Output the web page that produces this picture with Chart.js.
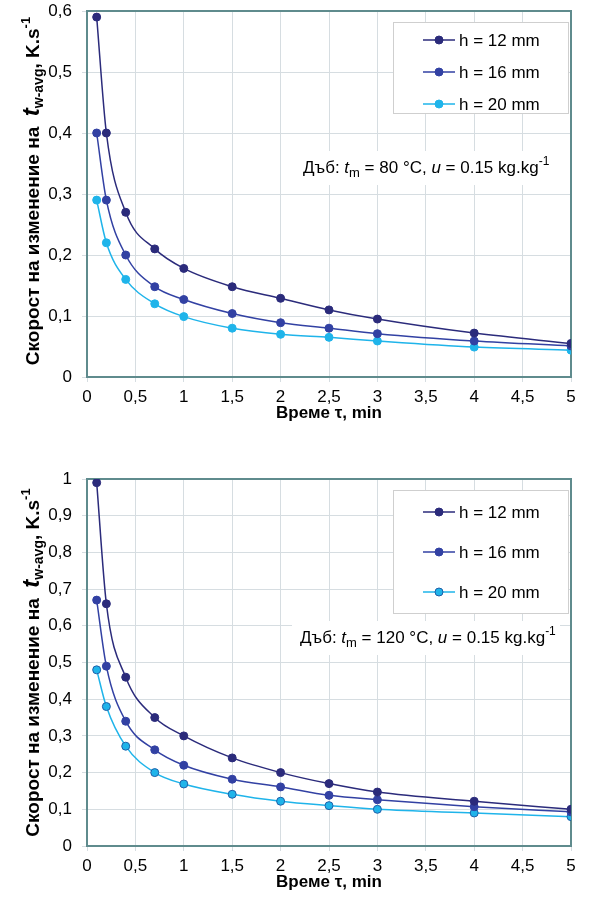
<!DOCTYPE html>
<html>
<head>
<meta charset="utf-8">
<script src="https://cdn.jsdelivr.net/npm/chart.js@4.4.1/dist/chart.umd.min.js"></script>
<style>
  body { margin: 0; background: #fff; }
  .box { position: absolute; left: 0; }
</style>
</head>
<body>
<div class="box" style="top:0"><canvas id="chartTop" width="594" height="430"></canvas></div>
<div class="box" style="top:450px"><canvas id="chartBottom" width="594" height="440"></canvas></div>
<script>
// time points, min
const times = [0.1, 0.2, 0.4, 0.7, 1, 1.5, 2, 2.5, 3, 4, 5];

// tm = 80 C
const top12 = [0.59, 0.40, 0.27, 0.21, 0.178, 0.148, 0.129, 0.110, 0.095, 0.072, 0.055];
const top16 = [0.40, 0.29, 0.20, 0.148, 0.127, 0.104, 0.089, 0.080, 0.071, 0.059, 0.051];
const top20 = [0.29, 0.22, 0.16, 0.12, 0.099, 0.080, 0.070, 0.065, 0.059, 0.049, 0.044];

// tm = 120 C
const bot12 = [0.99, 0.66, 0.46, 0.35, 0.30, 0.24, 0.20, 0.17, 0.147, 0.122, 0.10];
const bot16 = [0.67, 0.49, 0.34, 0.262, 0.22, 0.182, 0.161, 0.138, 0.126, 0.107, 0.093];
const bot20 = [0.48, 0.38, 0.272, 0.20, 0.169, 0.141, 0.122, 0.11, 0.10, 0.09, 0.08];

const seriesLabels = ['h = 12 mm', 'h = 16 mm', 'h = 20 mm'];
const FONT = '"Liberation Sans", Arial, sans-serif';

// draw a line of text made of pieces with different fonts (sub/superscripts)
function drawRich(ctx, parts, x, y, align) {
    let w = 0;
    parts.forEach(p => { ctx.font = p[1]; w += ctx.measureText(p[0]).width; });
    let cx = align === 'center' ? x - w / 2 : x;
    ctx.textAlign = 'left';
    ctx.textBaseline = 'alphabetic';
    parts.forEach(p => {
        ctx.font = p[1];
        ctx.fillText(p[0], cx, y + (p[2] || 0));
        cx += ctx.measureText(p[0]).width;
    });
    return w;
}

const decor = {
    id: 'decor',
    beforeDatasetsDraw(chart, args, opts) {
        const ctx = chart.ctx, a = chart.chartArea;
        ctx.save();
        ctx.strokeStyle = '#5f8b8d';
        ctx.lineWidth = 2;
        ctx.strokeRect(a.left, a.top, a.right - a.left, a.bottom - a.top);
        ctx.restore();
    },
    afterDraw(chart, args, opts) {
        const ctx = chart.ctx, a = chart.chartArea;
        ctx.save();
        ctx.fillStyle = '#000';

        // y axis title
        ctx.save();
        ctx.translate(31, (a.top + a.bottom) / 2 + opts.yTitleShift);
        ctx.rotate(-Math.PI / 2);
        drawRich(ctx, [
            ['Скорост на изменение на  ', 'bold 19px ' + FONT, 0],
            ['t', 'italic bold 24px ' + FONT, 0],
            ['w-avg', 'bold 14px ' + FONT, 4],
            [', K.s', 'bold 19px ' + FONT, 0],
            ['-1', 'bold 13px ' + FONT, -9]
        ], 0, 8, 'center');
        ctx.restore();

        // x axis title
        ctx.font = 'bold 17px ' + FONT;
        ctx.textAlign = 'center';
        ctx.textBaseline = 'middle';
        ctx.fillText('Време τ, min', (a.left + a.right) / 2, a.bottom + 36);

        // legend box
        const L = opts.legend;
        ctx.fillStyle = '#fff';
        ctx.fillRect(L.x, L.y, L.w, L.h);
        ctx.strokeStyle = '#cfcfcf';
        ctx.lineWidth = 1;
        ctx.strokeRect(L.x + 0.5, L.y + 0.5, L.w, L.h);
        chart.data.datasets.forEach((ds, i) => {
            const yy = L.y + L.first + i * L.step;
            ctx.strokeStyle = ds.borderColor;
            ctx.lineWidth = 1.5;
            ctx.beginPath();
            ctx.moveTo(L.x + 30, yy);
            ctx.lineTo(L.x + 62, yy);
            ctx.stroke();
            ctx.beginPath();
            ctx.arc(L.x + 46, yy, 4, 0, Math.PI * 2);
            ctx.fillStyle = ds.pointBackgroundColor;
            ctx.fill();
            ctx.strokeStyle = ds.pointBorderColor;
            ctx.lineWidth = 1;
            ctx.stroke();
            ctx.fillStyle = '#000';
            ctx.font = '17px ' + FONT;
            ctx.textAlign = 'left';
            ctx.textBaseline = 'middle';
            ctx.fillText(ds.label, L.x + 66, yy + 1);
        });

        // annotation with white background
        const N = opts.note;
        ctx.fillStyle = '#fff';
        ctx.fillRect(N.x - 8, N.y - 22, N.w, 34);
        ctx.fillStyle = '#000';
        drawRich(ctx, [
            ['Дъб: ', '17px ' + FONT, 0],
            ['t', 'italic 17px ' + FONT, 0],
            ['m', '13px ' + FONT, 4],
            [' = ' + N.temp + ' °C, ', '17px ' + FONT, 0],
            ['u', 'italic 17px ' + FONT, 0],
            [' = 0.15 kg.kg', '17px ' + FONT, 0],
            ['-1', '12px ' + FONT, -8]
        ], N.x, N.y, 'left');
        ctx.restore();
    }
};

function fmt(v) {
    return String(Math.round(v * 10) / 10).replace('.', ',');
}

function makeChart(id, s12, s16, s20, yMax, padTop, xAxisH, opts, ring20) {
    const colors = ['#2b2b7b', '#3241a3', '#1fb4ea'];
    const sets = [s12, s16, s20].map((s, i) => ({
        label: seriesLabels[i],
        data: times.map((t, j) => ({ x: t, y: s[j] })),
        showLine: true,
        borderColor: colors[i],
        borderWidth: 1.5,
        pointRadius: 4,
        pointBackgroundColor: colors[i],
        pointBorderColor: (i === 2 && ring20) ? '#1f5fa8' : colors[i],
        pointBorderWidth: 1,
        cubicInterpolationMode: 'monotone'
    }));
    return new Chart(document.getElementById(id), {
        type: 'scatter',
        data: { datasets: sets },
        options: {
            responsive: false,
            animation: false,
            layout: { padding: { top: padTop, right: 23, left: 0, bottom: 0 } },
            scales: {
                x: {
                    type: 'linear', min: 0, max: 5,
                    afterFit: s => { s.height = xAxisH; },
                    ticks: { stepSize: 0.5, color: '#000', padding: 5,
                        font: { size: 17, family: FONT }, callback: v => fmt(v) },
                    grid: { color: '#d6dde1', tickLength: 5 },
                    border: { display: false }
                },
                y: {
                    min: 0, max: yMax,
                    afterFit: s => { s.width = 87; s.paddingTop = 0; s.paddingBottom = 0; },
                    ticks: { stepSize: 0.1, color: '#000', padding: 10,
                        font: { size: 17, family: FONT }, callback: v => fmt(v) },
                    grid: { color: '#d6dde1', tickLength: 5 },
                    border: { display: false }
                }
            },
            plugins: {
                legend: { display: false },
                tooltip: { enabled: false },
                decor: opts
            }
        },
        plugins: [decor]
    });
}

makeChart('chartTop', top12, top16, top20, 0.6, 11, 53, {
    yTitleShift: -3,
    legend: { x: 393, y: 22, w: 175, h: 91, first: 18, step: 32 },
    note: { x: 303, y: 173, w: 262, temp: '80' }
}, false);

makeChart('chartBottom', bot12, bot16, bot20, 1, 29, 44, {
    yTitleShift: 0,
    legend: { x: 393, y: 40, w: 175, h: 123, first: 22, step: 40 },
    note: { x: 300, y: 193, w: 268, temp: '120' }
}, true);
</script>
</body>
</html>
